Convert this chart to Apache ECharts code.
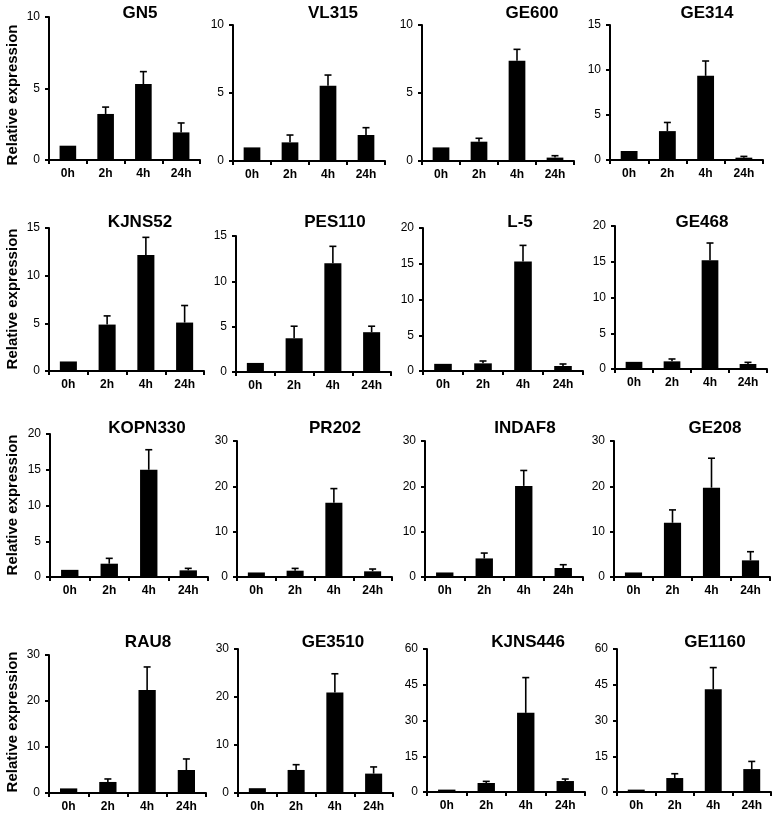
<!DOCTYPE html>
<html>
<head>
<meta charset="utf-8">
<script src="https://cdn.jsdelivr.net/npm/echarts@6/dist/echarts.min.js"></script>
<style>
html,body{margin:0;padding:0;background:#fff;}
#chart{width:773px;height:814px;}
</style>
</head>
<body>
<div id="chart"></div>
<script>
// ---- data ----
const categories = ['0h', '2h', '4h', '24h'];
const genes = ['GN5', 'VL315', 'GE600', 'GE314',
               'KJNS52', 'PES110', 'L-5', 'GE468',
               'KOPN330', 'PR202', 'INDAF8', 'GE208',
               'RAU8', 'GE3510', 'KJNS446', 'GE1160'];
const meanValues = [
  [1.0, 3.22, 5.31, 1.93],
  [1.0, 1.37, 5.54, 1.91],
  [1.0, 1.42, 7.38, 0.25],
  [1.0, 3.21, 9.35, 0.26],
  [1.0, 4.87, 12.16, 5.08],
  [1.0, 3.72, 12.0, 4.39],
  [1.0, 1.07, 15.3, 0.7],
  [1.0, 1.07, 15.2, 0.7],
  [1.0, 1.86, 15.0, 0.93],
  [1.0, 1.39, 16.4, 1.25],
  [1.0, 4.1, 20.1, 1.98],
  [1.0, 11.96, 19.7, 3.67],
  [1.0, 2.4, 22.4, 5.0],
  [1.0, 4.8, 20.95, 4.04],
  [1.0, 3.77, 33.2, 4.6],
  [1.0, 5.86, 43.1, 9.62]
];
const errValues = [
  [0, 0.48, 0.87, 0.66],
  [0, 0.54, 0.78, 0.54],
  [0, 0.25, 0.83, 0.14],
  [0, 0.96, 1.65, 0.14],
  [0, 0.91, 1.86, 1.79],
  [0, 1.33, 1.86, 0.66],
  [0, 0.33, 2.27, 0.28],
  [0, 0.33, 2.42, 0.23],
  [0, 0.75, 2.8, 0.28],
  [0, 0.51, 3.1, 0.51],
  [0, 1.18, 3.4, 0.73],
  [0, 2.84, 6.5, 1.91],
  [0, 0.65, 5.0, 2.4],
  [0, 1.1, 3.89, 1.39],
  [0, 0.69, 14.8, 0.84],
  [0, 1.81, 9.1, 3.21]
];
const axisMax  = [10, 10, 10, 15, 15, 15, 20, 20, 20, 30, 30, 30, 30, 30, 60, 60];
const axisStep = [5, 5, 5, 5, 5, 5, 5, 5, 5, 10, 10, 10, 10, 10, 15, 15];
const yAxisTitle = 'Relative expression';

// ---- layout (pixels) ----
const panelBox = [ // [left, top, width, height]
  [49, 17, 151, 143], [233, 25, 152, 136], [422, 25, 152, 136], [610, 25, 153, 135],
  [49, 228, 155, 143], [236, 236, 155, 136], [423, 228, 160, 143], [615, 226, 152, 143],
  [50, 434, 158, 143], [237, 441, 155, 136], [425, 441, 158, 136], [614, 441, 156, 136],
  [49, 655, 157, 138], [238, 649, 155, 144], [427, 649, 158, 143], [617, 649, 154, 143]
];
const titlePos = [
  [140, 13], [333, 13], [532, 13], [707, 13],
  [140, 222], [335, 222], [520, 222], [702, 222],
  [147, 428], [335, 428], [525, 428], [715, 428],
  [148, 642], [333, 642], [528, 642], [715, 642]
];
const rowLabelY = [95, 299, 505, 722];

const FONT = '"Liberation Sans", Arial, sans-serif';

const grid = [], xAxis = [], yAxis = [], series = [], graphic = [];
genes.forEach((g, i) => {
  const b = panelBox[i];
  grid.push({left: b[0], top: b[1], width: b[2], height: b[3], containLabel: false});
  xAxis.push({
    type: 'category', gridIndex: i, data: categories, boundaryGap: true,
    axisLine: {lineStyle: {color: '#000', width: 2}},
    axisTick: {show: true, alignWithLabel: false, length: 4, lineStyle: {color: '#000', width: 2}},
    axisLabel: {color: '#000', fontFamily: FONT, fontSize: 12, fontWeight: 'bold', margin: 8, interval: 0},
    splitLine: {show: false}
  });
  yAxis.push({
    type: 'value', gridIndex: i, min: 0, max: axisMax[i], interval: axisStep[i],
    axisLine: {show: true, lineStyle: {color: '#000', width: 2}},
    axisTick: {show: true, inside: false, length: 4, lineStyle: {color: '#000', width: 2}},
    axisLabel: {color: '#000', fontFamily: FONT, fontSize: 12, margin: 9},
    splitLine: {show: false}
  });
  series.push({
    type: 'bar', xAxisIndex: i, yAxisIndex: i, data: meanValues[i],
    barWidth: '44%', itemStyle: {color: '#000'}, silent: true, animation: false
  });
  series.push({
    type: 'custom', xAxisIndex: i, yAxisIndex: i, animation: false, silent: true, z: 3,
    data: meanValues[i].map((m, k) => [k, m, errValues[i][k]]),
    renderItem: function (params, api) {
      const x = api.value(0), m = api.value(1), s = api.value(2);
      if (!(s > 0)) return null;
      const p0 = api.coord([x, m]);
      const p1 = api.coord([x, m + s]);
      const st = {stroke: '#000', lineWidth: 1.6};
      return {type: 'group', children: [
        {type: 'line', shape: {x1: p0[0], y1: p0[1], x2: p1[0], y2: p1[1]}, style: st},
        {type: 'line', shape: {x1: p1[0] - 3.5, y1: p1[1], x2: p1[0] + 3.5, y2: p1[1]}, style: st}
      ]};
    }
  });
  graphic.push({
    type: 'text', x: titlePos[i][0], y: titlePos[i][1],
    style: {text: g, fill: '#000', font: 'bold 17px ' + FONT, textAlign: 'center', textVerticalAlign: 'middle'}
  });
});
rowLabelY.forEach(y => {
  graphic.push({
    type: 'text', x: 13, y: y, rotation: Math.PI / 2,
    style: {text: yAxisTitle, fill: '#000', font: 'bold 15px ' + FONT, textAlign: 'center', textVerticalAlign: 'middle'}
  });
});

const chart = echarts.init(document.getElementById('chart'), null, {renderer: 'canvas'});
chart.setOption({
  backgroundColor: '#fff',
  animation: false,
  grid: grid, xAxis: xAxis, yAxis: yAxis, series: series, graphic: graphic
});
</script>
</body>
</html>
